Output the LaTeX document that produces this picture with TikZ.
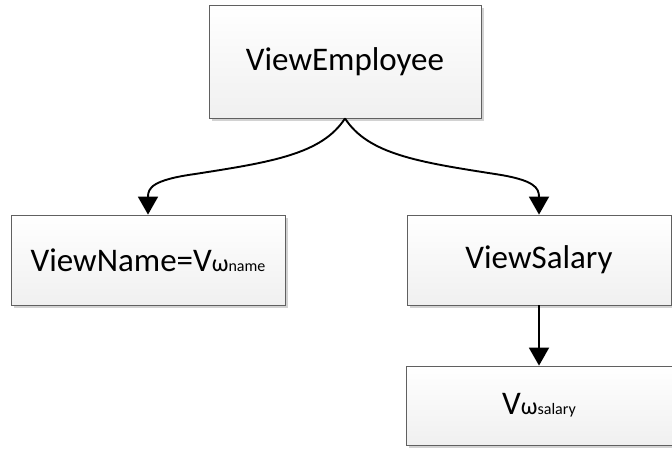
\documentclass[tikz,border=0pt]{standalone}
\usepackage{fontspec}
\setmainfont{Carlito}
\usepackage{tikz}
\usetikzlibrary{positioning,calc,arrows.meta,shadows}

\tikzset{
	viewbox/.style={draw=gray!75!black, line width=0.8pt, inner sep=0pt,
		top color=white, bottom color=gray!12,
		drop shadow={shadow xshift=3pt, shadow yshift=-3pt, fill=gray!35, opacity=1},
		font=\fontsize{33}{40}\selectfont},
	viewarrow/.style={black, line width=1.9pt, -{Triangle[length=18pt,width=20pt]}}
}
\newcommand{\omsub}[1]{{\fontsize{24}{28}\selectfont ω}{\fontsize{16}{18}\selectfont #1}}

\begin{document}
\begin{tikzpicture}[x=1pt,y=-1pt]
		\useasboundingbox (0,0) rectangle (672,459);
		\node[viewbox, minimum width=272pt, minimum height=113pt] (ve) at (345,61.5) {ViewEmployee};
		\node[viewbox, minimum width=274pt, minimum height=90pt] (vn) at (148,260) {ViewName=V\omsub{name}};
		\node[viewbox, minimum width=264pt, minimum height=90pt] (vs) at (539,260) {ViewSalary};
		\node[viewbox, minimum width=266pt, minimum height=79pt] (vw) at (539,405.5) {V\omsub{salary}};
		\draw [viewarrow] (ve.south) .. controls (322,154) and (272,162) ..
		(195,174) .. controls (152,180) and (148,188) .. (vn.north);
		\draw [viewarrow] (ve.south) .. controls (368,154) and (418,162) ..
		(495,174) .. controls (535,180) and (539,188) .. (vs.north);
		\draw [viewarrow] (vs) -- (vw);
	\end{tikzpicture}
\end{document}
